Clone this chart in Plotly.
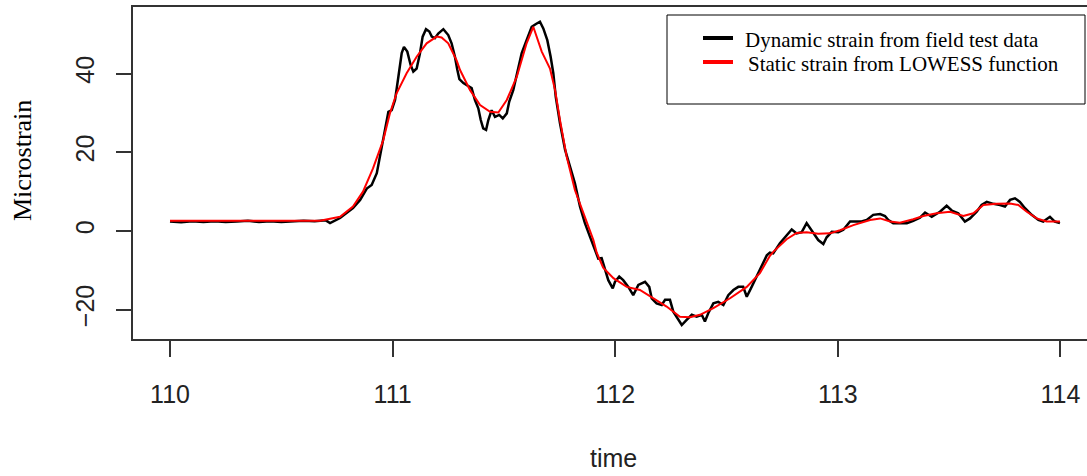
import plotly.graph_objects as go

# Dynamic strain (black) - time, microstrain
dyn_time = [110.000, 110.050, 110.100, 110.150, 110.200, 110.250, 110.300, 110.350, 110.400, 110.450,
            110.500, 110.550, 110.600, 110.650, 110.700, 110.719, 110.764, 110.822, 110.854, 110.884,
            110.906, 110.929, 110.943, 110.958, 110.973, 110.981, 110.996, 111.011, 111.026, 111.041,
            111.051, 111.066, 111.081, 111.093, 111.108, 111.123, 111.135, 111.150, 111.165, 111.176,
            111.190, 111.205, 111.228, 111.250, 111.265, 111.280, 111.291, 111.300, 111.318, 111.333,
            111.355, 111.370, 111.385, 111.396, 111.407, 111.420, 111.430, 111.445, 111.460, 111.479,
            111.495, 111.513, 111.524, 111.542, 111.558, 111.580, 111.602, 111.625, 111.644, 111.662,
            111.677, 111.695, 111.710, 111.722, 111.733, 111.752, 111.775, 111.797, 111.819, 111.842,
            111.864, 111.887, 111.909, 111.924, 111.939, 111.954, 111.969, 111.989, 111.999, 112.018,
            112.036, 112.059, 112.081, 112.104, 112.134, 112.153, 112.164, 112.186, 112.209, 112.224,
            112.246, 112.261, 112.283, 112.299, 112.321, 112.344, 112.366, 112.389, 112.403, 112.418,
            112.441, 112.463, 112.486, 112.508, 112.531, 112.553, 112.575, 112.591, 112.613, 112.636,
            112.658, 112.681, 112.695, 112.710, 112.740, 112.778, 112.793, 112.815, 112.838, 112.860,
            112.875, 112.890, 112.912, 112.935, 112.950, 112.973, 113.002, 113.025, 113.055, 113.085,
            113.107, 113.130, 113.159, 113.190, 113.212, 113.227, 113.249, 113.279, 113.310, 113.339,
            113.369, 113.392, 113.422, 113.459, 113.489, 113.512, 113.541, 113.571, 113.594, 113.624,
            113.646, 113.669, 113.699, 113.729, 113.751, 113.774, 113.796, 113.818, 113.841, 113.871,
            113.901, 113.923, 113.953, 113.975, 113.998]
dyn_strain = [2.4, 2.2, 2.5, 2.3, 2.5, 2.3, 2.4, 2.6, 2.3, 2.5,
              2.3, 2.4, 2.6, 2.5, 2.7, 2.0, 3.3, 5.8, 7.9, 10.8,
              11.7, 14.7, 18.9, 23.1, 28.2, 30.3, 30.7, 33.3, 39.2, 45.2,
              46.8, 45.6, 42.2, 40.5, 41.3, 45.2, 49.4, 51.3, 50.7, 49.4,
              49.0, 50.2, 51.3, 49.8, 47.7, 44.3, 40.9, 38.6, 37.6, 37.0,
              36.3, 33.3, 31.2, 28.2, 26.1, 25.7, 28.2, 30.7, 29.0, 29.5,
              28.6, 29.9, 32.9, 35.8, 40.1, 45.2, 48.5, 51.9, 52.6, 53.2,
              51.5, 48.5, 44.3, 40.1, 34.1, 27.4, 20.6, 16.3, 12.1, 6.2,
              2.0, -1.5, -4.8, -7.0, -6.9, -9.9, -12.5, -14.6, -12.9, -11.6,
              -12.5, -14.2, -16.3, -13.7, -12.9, -14.2, -17.1, -18.4, -18.8, -17.5,
              -17.5, -20.5, -22.6, -23.9, -22.6, -21.3, -21.8, -21.3, -23.0, -20.9,
              -18.4, -18.0, -18.8, -16.3, -15.0, -14.2, -14.2, -16.7, -14.2, -11.6,
              -9.1, -6.2, -5.5, -5.7, -3.1, -0.6, 0.4, -0.6, -0.3, 2.0,
              0.7, -0.4, -2.3, -3.3, -1.6, -0.2, -0.3, 0.3, 2.4, 2.4,
              2.4, 2.8, 4.1, 4.3, 3.8, 2.8, 2.0, 2.0, 2.0, 2.6,
              3.4, 4.7, 3.6, 4.9, 6.4, 5.2, 4.5, 2.4, 3.2, 4.9,
              6.6, 7.4, 6.9, 6.6, 6.2, 7.9, 8.3, 7.4, 5.8, 4.1,
              2.8, 2.4, 3.6, 2.4, 2.0]

# Static strain (red, LOWESS)
lowess_time = [110.000, 110.300, 110.600, 110.674, 110.764, 110.822, 110.867, 110.912, 110.958, 110.988,
               111.018, 111.063, 111.108, 111.153, 111.198, 111.220, 111.250, 111.288, 111.303, 111.348,
               111.393, 111.438, 111.475, 111.513, 111.558, 111.602, 111.632, 111.670, 111.707, 111.730,
               111.752, 111.782, 111.819, 111.857, 111.902, 111.917, 111.946, 111.992, 112.052, 112.111,
               112.171, 112.231, 112.291, 112.336, 112.381, 112.441, 112.516, 112.591, 112.650, 112.695,
               112.710, 112.770, 112.815, 112.860, 112.912, 112.965, 113.010, 113.070, 113.145, 113.190,
               113.235, 113.279, 113.339, 113.384, 113.444, 113.504, 113.564, 113.609, 113.654, 113.713,
               113.774, 113.811, 113.849, 113.894, 113.938, 113.998]
lowess_strain = [2.6, 2.6, 2.6, 2.6, 3.6, 6.2, 10.0, 15.9, 23.1, 29.9,
                 35.0, 40.1, 44.3, 47.7, 49.4, 49.2, 47.7, 43.3, 40.9, 35.8,
                 32.0, 30.3, 30.1, 33.3, 39.2, 47.7, 51.9, 45.6, 41.3, 35.8,
                 28.2, 18.9, 10.4, 4.5, -2.3, -5.5, -9.3, -12.0, -14.2, -15.0,
                 -17.1, -19.2, -21.8, -21.9, -21.3, -19.6, -17.1, -14.2, -10.7, -6.3,
                 -5.3, -2.1, -0.5, -0.3, -0.7, -0.6, 0.2, 1.5, 2.8, 3.2,
                 2.4, 2.1, 3.0, 3.8, 4.5, 4.9, 3.8, 4.5, 6.6, 6.9,
                 7.0, 6.6, 4.9, 3.2, 2.4, 2.4]

x_ticks = [110, 111, 112, 113, 114]
y_ticks = [-20, 0, 20, 40]
series_names = ["Dynamic strain from field test data", "Static strain from LOWESS function"]
series_colors = ["#000000", "#ff0000"]

W, H = 1087, 476
ML, MR, MT, MB = 133, 0, 7, 137
pw, ph = W - ML - MR, H - MT - MB


def px_x(p):
    return (p - ML) / pw


def px_y(p):
    return (H - MB - p) / ph


fig = go.Figure()
fig.add_trace(go.Scatter(x=dyn_time, y=dyn_strain, mode="lines", name=series_names[0],
                         line=dict(color=series_colors[0], width=2.5), showlegend=False))
fig.add_trace(go.Scatter(x=lowess_time, y=lowess_strain, mode="lines", name=series_names[1],
                         line=dict(color=series_colors[1], width=2), showlegend=False))

axis_col = "#333333"
shapes = [dict(type="rect", xref="paper", yref="paper",
               x0=px_x(667), x1=px_x(1085), y0=px_y(104), y1=px_y(15),
               line=dict(color="black", width=1), fillcolor="rgba(0,0,0,0)")]
annotations = [
    dict(text="Microstrain", xref="paper", yref="paper", x=px_x(22), y=px_y(161),
         xanchor="center", yanchor="middle", textangle=-90, showarrow=False,
         font=dict(family="Liberation Serif", size=26, color="black")),
    dict(text="time", xref="paper", yref="paper", x=px_x(613), y=px_y(458),
         xanchor="center", yanchor="middle", showarrow=False,
         font=dict(family="Liberation Sans", size=25, color="#222222")),
]
# legend: key lines and labels
key_rows = [(38, 40, 743), (62, 64, 746)]
for (ky, ty, tx), name, col in zip(key_rows, series_names, series_colors):
    shapes.append(dict(type="line", xref="paper", yref="paper",
                       x0=px_x(703), x1=px_x(733), y0=px_y(ky), y1=px_y(ky),
                       line=dict(color=col, width=4)))
    annotations.append(dict(text=name, xref="paper", yref="paper", x=px_x(tx), y=px_y(ty),
                            xanchor="left", yanchor="middle", showarrow=False,
                            font=dict(family="Liberation Serif", size=21, color="black")))

fig.update_layout(
    width=W, height=H,
    margin=dict(l=ML, r=MR, t=MT, b=MB, pad=0, autoexpand=False),
    paper_bgcolor="white", plot_bgcolor="white",
    showlegend=False,
    xaxis=dict(range=[109.8338, 114.1195], tickvals=x_ticks, ticks="outside", ticklen=16,
               tickwidth=1.5, tickcolor=axis_col, showline=True, linecolor=axis_col, linewidth=1.5,
               mirror=True, showgrid=False, zeroline=False, automargin=False,
               tickfont=dict(family="Liberation Sans", size=25, color="#222222"),
               ticklabelstandoff=16),
    yaxis=dict(range=[-27.45, 56.93], tickvals=y_ticks, ticks="outside", ticklen=15,
               tickwidth=1.5, tickcolor=axis_col, showline=True, linecolor=axis_col, linewidth=1.5,
               mirror=False, showgrid=False, zeroline=False, tickangle=-90, automargin=False,
               tickfont=dict(family="Liberation Sans", size=25, color="#222222"),
               ticklabelstandoff=12),
    shapes=shapes,
    annotations=annotations,
)

fig.write_html("out.html", config={"displayModeBar": False},
               post_script="document.body.style.margin='0';document.body.style.overflow='hidden';")
